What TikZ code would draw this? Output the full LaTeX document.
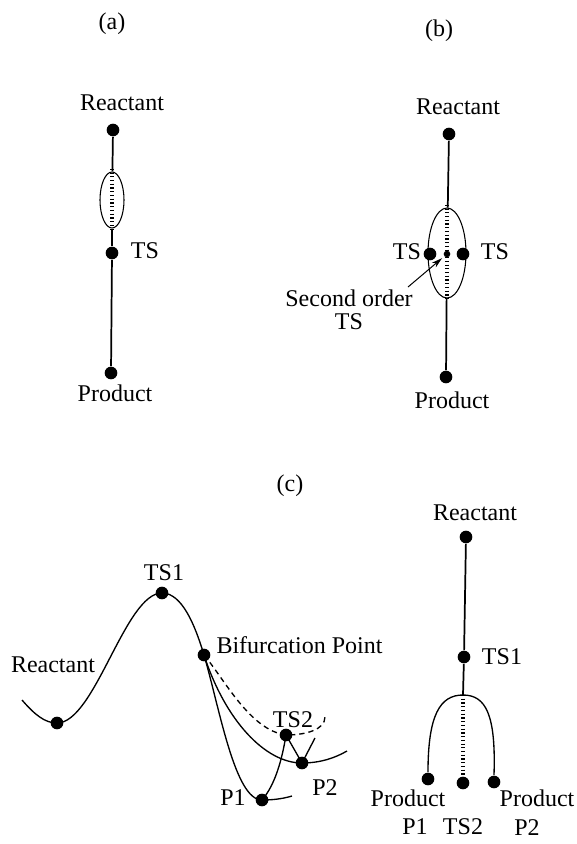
\documentclass[tikz,border=0pt]{standalone}
\usepackage{fontspec}
\setmainfont{Liberation Serif}
\usetikzlibrary{shapes.geometric,arrows.meta}
\tikzset{every picture/.style={line width=0.75pt}}
\tikzset{
  dot/.style={circle, fill=black, inner sep=0pt, minimum size=9.5pt},
  smalldot/.style={circle, fill=black, inner sep=0pt, minimum size=5pt},
  txt/.style={inner sep=0.75pt, font=\fontsize{18}{17}\selectfont, align=center},
  stem/.style={line width=1.3pt},
  ladder/.style={line width=2.6pt, dash pattern=on 0.9pt off 1.9pt},
  pes/.style={line width=1pt},
  ring/.style={draw, ellipse, inner sep=0pt, line width=0.8pt}
}

\begin{document}
\begin{tikzpicture}[x=0.75pt,y=0.75pt,yscale=-1,xscale=1]
\useasboundingbox (0,0) rectangle (577,844);

%Panel (a)
\node[dot] (ra) at (113,130) {};
\node[ring, minimum width=18pt, minimum height=42pt] (ela) at (112,200) {};
\node[dot] (tsa) at (112,253) {};
\node[dot] (pa) at (111,373) {};
\draw[stem] (ra) -- (ela);
\draw[stem] (ela) -- (tsa);
\draw[stem] (tsa) -- (pa);
\draw[ladder] ([yshift=-2pt]ela.north) -- ([yshift=2pt]ela.south);

% Text Node
\node[txt] (capa) at (112,24) {(a)};
\node[txt] (rla) at (122,103) {Reactant};
\node[txt] (tla) at (145,251) {TS};
\node[txt] (pla) at (115,393) {Product};

%Panel (b)
\node[dot] (rb) at (449,134) {};
\node[ring, minimum width=28.5pt, minimum height=67.5pt] (elb) at (447,253) {};
\node[dot] (pb) at (446,377) {};
\draw[stem] (rb) -- (elb);
\draw[stem] (elb) -- (pb);
\draw[ladder] ([yshift=-2pt]elb.north) -- ([yshift=2pt]elb.south);
\node[dot] (tsbl) at (430,254) {};
\node[dot] (tsbr) at (463,254) {};
\node[smalldot] (sb) at (447,254) {};

% Text Node
\node[txt] (capb) at (439,31) {(b)};
\node[txt] (rlb) at (458,107) {Reactant};
\node[txt] (tlbl) at (407,252) {TS};
\node[txt] (tlbr) at (495,252) {TS};
\node[txt] (plb) at (452,400) {Product};
\node[txt] (so) at (349,310) {Second order\\TS};
\draw[-{Stealth[length=8pt,width=4.5pt]}, shorten >=2pt] (408,287) -- (sb);

%Panel (c), energy profile
\coordinate (lend) at (22,700);
\node[dot] (rc) at (57,723) {};
\node[dot] (ts1c) at (162,593) {};
\node[dot] (bif) at (204,655) {};
\node[dot] (ts2c) at (286,735) {};
\node[dot] (p2c) at (302,763) {};
\node[dot] (p1c) at (262,800) {};
\coordinate (p1end) at (292,796);
\coordinate (p2end) at (347,751);
\coordinate (ts2end) at (325,717);
\coordinate (p2up) at (315,738);

\draw[pes] (lend) .. controls (35,715) and (45,723) .. (rc.center)
  .. controls (95,723) and (125,593) .. (ts1c.center)
  .. controls (182,593) and (195,625) .. (bif.center);
\draw[pes] (bif.center) .. controls (220,710) and (235,800) .. (p1c.center)
  .. controls (272,800) and (282,799) .. (p1end);
\draw[pes] (bif.center) .. controls (225,720) and (265,763) .. (p2c.center)
  .. controls (320,763) and (335,758) .. (p2end);
\draw[pes, dash pattern=on 4pt off 3pt] (bif.center) .. controls (225,680) and (250,730) .. (ts2c.center)
  .. controls (305,735) and (325,730) .. (ts2end);
\draw[pes] (p1c.center) .. controls (275,785) and (282,760) .. (ts2c.center);
\draw[pes] (ts2c.center) -- (p2c.center);
\draw[pes] (p2c.center) -- (p2up);

% Text Node
\node[txt] (capc) at (290,486) {(c)};
\node[txt] (rlc) at (53,665) {Reactant};
\node[txt] (t1c) at (164,573) {TS1};
\node[txt, anchor=west] (blc) at (215,645) {Bifurcation Point};
\node[txt] (t2c) at (293,720) {TS2};
\node[txt] (p1lc) at (233,798) {P1};
\node[txt] (p2lc) at (325,788) {P2};

%Panel (c), branching path
\node[dot] (rr) at (466,537) {};
\node[dot] (ts1r) at (464,657) {};
\coordinate (fork) at (463,695);
\node[dot] (p1r) at (428,779) {};
\node[dot] (ts2r) at (463,783) {};
\node[dot] (p2r) at (494,782) {};
\draw[stem] (rr) -- (ts1r);
\draw[stem] (ts1r) -- (fork);
\draw[pes] (p1r.north) .. controls (428,715) and (440,695) .. (fork)
  .. controls (486,695) and (496,715) .. (p2r.north);
\draw[ladder] (fork) -- (ts2r);

% Text Node
\node[txt] (rlr) at (475,513) {Reactant};
\node[txt] (t1r) at (502,657) {TS1};
\node[txt] (pl1r) at (408,798) {Product};
\node[txt] (pl2r) at (537,798) {Product};
\node[txt] (p1lr) at (415,827) {P1};
\node[txt] (t2lr) at (463,827) {TS2};
\node[txt] (p2lr) at (527,828) {P2};

\end{tikzpicture}
\end{document}
